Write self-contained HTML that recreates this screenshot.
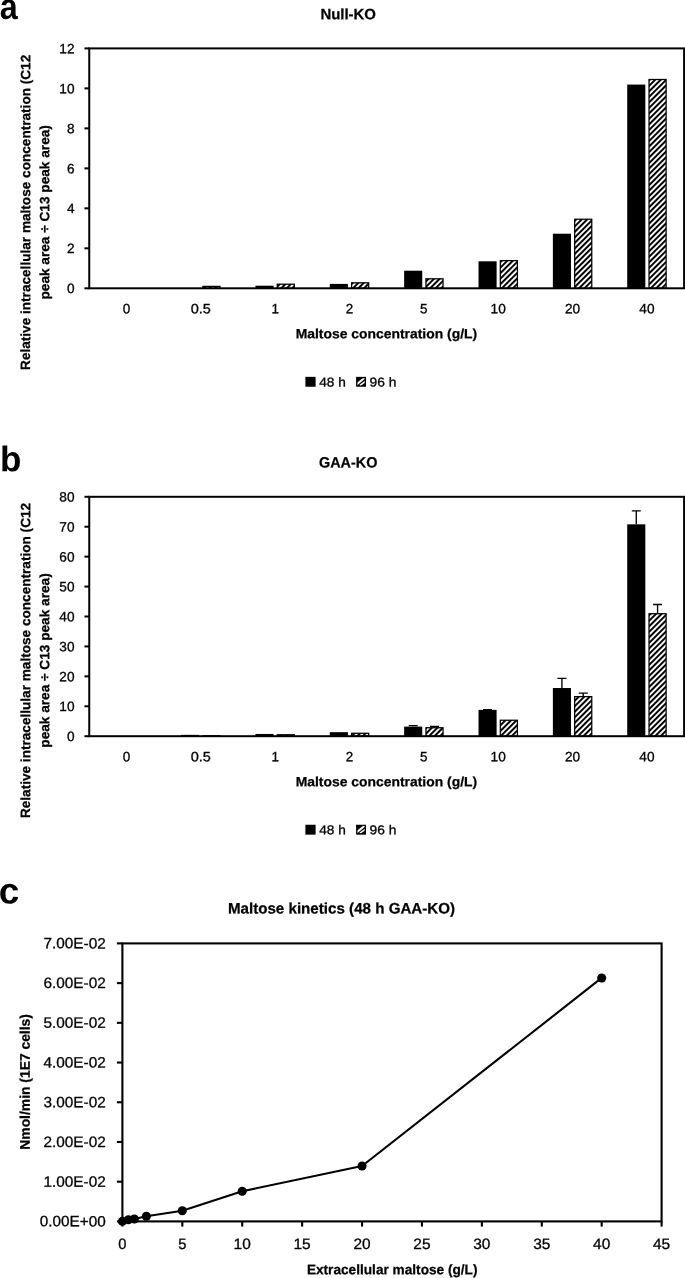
<!DOCTYPE html>
<html lang="en"><head><meta charset="utf-8"><title>Maltose figure</title>
<style>html,body{margin:0;padding:0;background:#fff}body{width:685px;height:1278px;overflow:hidden}svg{display:block;will-change:transform;filter:grayscale(1)}text{font-family:'Liberation Sans', sans-serif;fill:#000}</style>
</head><body>
<svg width="685" height="1278" viewBox="0 0 685 1278">
<defs>
<pattern id="hatch" width="3.9" height="3.9" patternUnits="userSpaceOnUse" patternTransform="rotate(-45)"><rect width="3.9" height="3.9" fill="#fff"/><rect width="3.9" height="2.0" fill="#000"/></pattern>
<clipPath id="sw"><rect x="357.5" y="378.2" width="7.2" height="7.2"/></clipPath>
</defs>
<rect width="685" height="1278" fill="#fff"/>
<text x="-0.2" y="19.0" font-size="36.5" text-anchor="start" font-weight="700" textLength="18.0" lengthAdjust="spacingAndGlyphs" transform="rotate(0.03 -0.2 19.0)">a</text>
<text x="-0.1" y="471.3" font-size="35.6" text-anchor="start" font-weight="700" textLength="21.4" lengthAdjust="spacingAndGlyphs" transform="rotate(0.03 -0.1 471.3)">b</text>
<text x="-1.3" y="903.6" font-size="36.8" text-anchor="start" font-weight="700" transform="rotate(0.03 -1.3 903.6)">c</text>
<g>
<rect x="202.88" y="286.40" width="17.1" height="1.90" fill="url(#hatch)" stroke="#000" stroke-width="1.25"/>
<rect x="255.44" y="285.70" width="18.1" height="2.60" fill="#000"/>
<rect x="277.24" y="284.20" width="17.1" height="4.10" fill="url(#hatch)" stroke="#000" stroke-width="1.25"/>
<rect x="329.80" y="283.90" width="18.1" height="4.40" fill="#000"/>
<rect x="351.60" y="282.80" width="17.1" height="5.50" fill="url(#hatch)" stroke="#000" stroke-width="1.25"/>
<rect x="404.15" y="270.71" width="18.1" height="17.59" fill="#000"/>
<rect x="425.95" y="278.80" width="17.1" height="9.50" fill="url(#hatch)" stroke="#000" stroke-width="1.25"/>
<rect x="478.51" y="261.31" width="18.1" height="26.99" fill="#000"/>
<rect x="500.31" y="260.61" width="17.1" height="27.69" fill="url(#hatch)" stroke="#000" stroke-width="1.25"/>
<rect x="552.87" y="233.72" width="18.1" height="54.58" fill="#000"/>
<rect x="574.67" y="219.23" width="17.1" height="69.07" fill="url(#hatch)" stroke="#000" stroke-width="1.25"/>
<rect x="627.22" y="84.58" width="18.1" height="203.72" fill="#000"/>
<rect x="649.02" y="79.49" width="17.1" height="208.81" fill="url(#hatch)" stroke="#000" stroke-width="1.25"/>
<rect x="89.25" y="48.4" width="594.85" height="239.9" fill="none" stroke="#000" stroke-width="2.0"/>
<line x1="84.45" y1="288.30" x2="89.25" y2="288.30" stroke="#000" stroke-width="2.0"/>
<text x="74.5" y="293.1" font-size="13.5" text-anchor="end" stroke="#000" stroke-width="0.3" textLength="7.6" lengthAdjust="spacingAndGlyphs" transform="rotate(0.03 74.5 293.1)">0</text>
<line x1="84.45" y1="248.32" x2="89.25" y2="248.32" stroke="#000" stroke-width="2.0"/>
<text x="74.5" y="253.12" font-size="13.5" text-anchor="end" stroke="#000" stroke-width="0.3" textLength="7.6" lengthAdjust="spacingAndGlyphs" transform="rotate(0.03 74.5 253.12)">2</text>
<line x1="84.45" y1="208.33" x2="89.25" y2="208.33" stroke="#000" stroke-width="2.0"/>
<text x="74.5" y="213.13" font-size="13.5" text-anchor="end" stroke="#000" stroke-width="0.3" textLength="7.6" lengthAdjust="spacingAndGlyphs" transform="rotate(0.03 74.5 213.13)">4</text>
<line x1="84.45" y1="168.35" x2="89.25" y2="168.35" stroke="#000" stroke-width="2.0"/>
<text x="74.5" y="173.15" font-size="13.5" text-anchor="end" stroke="#000" stroke-width="0.3" textLength="7.6" lengthAdjust="spacingAndGlyphs" transform="rotate(0.03 74.5 173.15)">6</text>
<line x1="84.45" y1="128.37" x2="89.25" y2="128.37" stroke="#000" stroke-width="2.0"/>
<text x="74.5" y="133.17" font-size="13.5" text-anchor="end" stroke="#000" stroke-width="0.3" textLength="7.6" lengthAdjust="spacingAndGlyphs" transform="rotate(0.03 74.5 133.17)">8</text>
<line x1="84.45" y1="88.38" x2="89.25" y2="88.38" stroke="#000" stroke-width="2.0"/>
<text x="74.5" y="93.18" font-size="13.5" text-anchor="end" stroke="#000" stroke-width="0.3" textLength="15.2" lengthAdjust="spacingAndGlyphs" transform="rotate(0.03 74.5 93.18)">10</text>
<line x1="84.45" y1="48.40" x2="89.25" y2="48.40" stroke="#000" stroke-width="2.0"/>
<text x="74.5" y="53.2" font-size="13.5" text-anchor="end" stroke="#000" stroke-width="0.3" textLength="15.2" lengthAdjust="spacingAndGlyphs" transform="rotate(0.03 74.5 53.2)">12</text>
<text x="126.43" y="313.3" font-size="13.5" text-anchor="middle" stroke="#000" stroke-width="0.3" textLength="7.5" lengthAdjust="spacingAndGlyphs" transform="rotate(0.03 126.43 313.3)">0</text>
<text x="200.78" y="313.3" font-size="13.5" text-anchor="middle" stroke="#000" stroke-width="0.3" textLength="20.2" lengthAdjust="spacingAndGlyphs" transform="rotate(0.03 200.78 313.3)">0.5</text>
<text x="275.14" y="313.3" font-size="13.5" text-anchor="middle" stroke="#000" stroke-width="0.3" textLength="7.5" lengthAdjust="spacingAndGlyphs" transform="rotate(0.03 275.14 313.3)">1</text>
<text x="349.5" y="313.3" font-size="13.5" text-anchor="middle" stroke="#000" stroke-width="0.3" textLength="7.5" lengthAdjust="spacingAndGlyphs" transform="rotate(0.03 349.5 313.3)">2</text>
<text x="423.85" y="313.3" font-size="13.5" text-anchor="middle" stroke="#000" stroke-width="0.3" textLength="7.5" lengthAdjust="spacingAndGlyphs" transform="rotate(0.03 423.85 313.3)">5</text>
<text x="498.21" y="313.3" font-size="13.5" text-anchor="middle" stroke="#000" stroke-width="0.3" textLength="15.2" lengthAdjust="spacingAndGlyphs" transform="rotate(0.03 498.21 313.3)">10</text>
<text x="572.57" y="313.3" font-size="13.5" text-anchor="middle" stroke="#000" stroke-width="0.3" textLength="15.2" lengthAdjust="spacingAndGlyphs" transform="rotate(0.03 572.57 313.3)">20</text>
<text x="646.92" y="313.3" font-size="13.5" text-anchor="middle" stroke="#000" stroke-width="0.3" textLength="15.2" lengthAdjust="spacingAndGlyphs" transform="rotate(0.03 646.92 313.3)">40</text>
<text x="348.2" y="19.3" font-size="15.0" text-anchor="middle" font-weight="700" stroke="#000" stroke-width="0.25" textLength="55.6" lengthAdjust="spacingAndGlyphs" transform="rotate(0.03 348.2 19.3)">Null-KO</text>
<text x="386.4" y="338.3" font-size="13.4" text-anchor="middle" font-weight="700" stroke="#000" stroke-width="0.25" textLength="181.5" lengthAdjust="spacingAndGlyphs" transform="rotate(0.03 386.4 338.3)">Maltose concentration (g/L)</text>
<text x="30.2" y="212.35" font-size="13.5" text-anchor="middle" font-weight="700" stroke="#000" stroke-width="0.25" textLength="315.2" lengthAdjust="spacingAndGlyphs" transform="rotate(-89.97 30.2 212.35)">Relative intracellular maltose concentration (C12</text>
<text x="49.2" y="212.35" font-size="13.5" text-anchor="middle" font-weight="700" stroke="#000" stroke-width="0.25" textLength="174.4" lengthAdjust="spacingAndGlyphs" transform="rotate(-89.97 49.2 212.35)">peak area ÷ C13 peak area)</text>
<rect x="305.4" y="376.85" width="10.2" height="9.9" fill="#000"/>
<text x="319.2" y="386.4" font-size="12.8" text-anchor="start" stroke="#000" stroke-width="0.3" textLength="26.6" lengthAdjust="spacingAndGlyphs" transform="rotate(0.03 319.2 386.4)">48 h</text>
<rect x="356.1" y="376.85" width="9.9" height="9.9" fill="#000"/>
<g transform="translate(0 0.00)" clip-path="url(#sw)" stroke="#fff" fill="none"><path d="M356.6 384.5L364.6 377.9" stroke-width="2.0"/><path d="M360.0 385.3L365.4 381.4" stroke-width="1.6"/></g>
<text x="369.6" y="386.4" font-size="12.8" text-anchor="start" stroke="#000" stroke-width="0.3" textLength="26.9" lengthAdjust="spacingAndGlyphs" transform="rotate(0.03 369.6 386.4)">96 h</text>
</g>
<g>
<rect x="181.08" y="734.85" width="18.1" height="1.35" fill="#000"/>
<rect x="202.88" y="735.80" width="17.1" height="0.40" fill="url(#hatch)" stroke="#000" stroke-width="1.25"/>
<rect x="255.44" y="733.96" width="18.1" height="2.24" fill="#000"/>
<rect x="277.24" y="734.75" width="17.1" height="1.45" fill="url(#hatch)" stroke="#000" stroke-width="1.25"/>
<rect x="329.80" y="732.16" width="18.1" height="4.04" fill="#000"/>
<rect x="351.60" y="733.26" width="17.1" height="2.94" fill="url(#hatch)" stroke="#000" stroke-width="1.25"/>
<rect x="404.15" y="726.62" width="18.1" height="9.58" fill="#000"/>
<rect x="425.95" y="727.72" width="17.1" height="8.48" fill="url(#hatch)" stroke="#000" stroke-width="1.25"/>
<path d="M413.20 726.62V725.58M408.70 725.58H417.70" stroke="#000" stroke-width="1.35" fill="none"/>
<path d="M434.50 727.22V726.32M430.00 726.32H439.00" stroke="#000" stroke-width="1.35" fill="none"/>
<rect x="478.51" y="709.87" width="18.1" height="26.33" fill="#000"/>
<rect x="500.31" y="720.24" width="17.1" height="15.96" fill="url(#hatch)" stroke="#000" stroke-width="1.25"/>
<path d="M487.56 709.87V709.57M483.06 709.57H492.06" stroke="#000" stroke-width="1.35" fill="none"/>
<rect x="552.87" y="688.02" width="18.1" height="48.18" fill="#000"/>
<rect x="574.67" y="696.60" width="17.1" height="39.60" fill="url(#hatch)" stroke="#000" stroke-width="1.25"/>
<path d="M561.92 688.02V678.44M557.42 678.44H566.42" stroke="#000" stroke-width="1.35" fill="none"/>
<path d="M583.22 696.10V693.11M578.72 693.11H587.72" stroke="#000" stroke-width="1.35" fill="none"/>
<rect x="627.22" y="524.33" width="18.1" height="211.87" fill="#000"/>
<rect x="649.02" y="613.71" width="17.1" height="122.49" fill="url(#hatch)" stroke="#000" stroke-width="1.25"/>
<path d="M636.27 524.33V510.86M631.77 510.86H640.77" stroke="#000" stroke-width="1.35" fill="none"/>
<path d="M657.57 613.21V604.53M653.07 604.53H662.07" stroke="#000" stroke-width="1.35" fill="none"/>
<rect x="89.25" y="496.8" width="594.85" height="239.40000000000003" fill="none" stroke="#000" stroke-width="2.0"/>
<line x1="84.45" y1="736.20" x2="89.25" y2="736.20" stroke="#000" stroke-width="2.0"/>
<text x="74.5" y="741.0" font-size="13.5" text-anchor="end" stroke="#000" stroke-width="0.3" textLength="7.6" lengthAdjust="spacingAndGlyphs" transform="rotate(0.03 74.5 741.0)">0</text>
<line x1="84.45" y1="706.28" x2="89.25" y2="706.28" stroke="#000" stroke-width="2.0"/>
<text x="74.5" y="711.08" font-size="13.5" text-anchor="end" stroke="#000" stroke-width="0.3" textLength="15.2" lengthAdjust="spacingAndGlyphs" transform="rotate(0.03 74.5 711.08)">10</text>
<line x1="84.45" y1="676.35" x2="89.25" y2="676.35" stroke="#000" stroke-width="2.0"/>
<text x="74.5" y="681.15" font-size="13.5" text-anchor="end" stroke="#000" stroke-width="0.3" textLength="15.2" lengthAdjust="spacingAndGlyphs" transform="rotate(0.03 74.5 681.15)">20</text>
<line x1="84.45" y1="646.43" x2="89.25" y2="646.43" stroke="#000" stroke-width="2.0"/>
<text x="74.5" y="651.23" font-size="13.5" text-anchor="end" stroke="#000" stroke-width="0.3" textLength="15.2" lengthAdjust="spacingAndGlyphs" transform="rotate(0.03 74.5 651.23)">30</text>
<line x1="84.45" y1="616.50" x2="89.25" y2="616.50" stroke="#000" stroke-width="2.0"/>
<text x="74.5" y="621.3" font-size="13.5" text-anchor="end" stroke="#000" stroke-width="0.3" textLength="15.2" lengthAdjust="spacingAndGlyphs" transform="rotate(0.03 74.5 621.3)">40</text>
<line x1="84.45" y1="586.58" x2="89.25" y2="586.58" stroke="#000" stroke-width="2.0"/>
<text x="74.5" y="591.38" font-size="13.5" text-anchor="end" stroke="#000" stroke-width="0.3" textLength="15.2" lengthAdjust="spacingAndGlyphs" transform="rotate(0.03 74.5 591.38)">50</text>
<line x1="84.45" y1="556.65" x2="89.25" y2="556.65" stroke="#000" stroke-width="2.0"/>
<text x="74.5" y="561.45" font-size="13.5" text-anchor="end" stroke="#000" stroke-width="0.3" textLength="15.2" lengthAdjust="spacingAndGlyphs" transform="rotate(0.03 74.5 561.45)">60</text>
<line x1="84.45" y1="526.73" x2="89.25" y2="526.73" stroke="#000" stroke-width="2.0"/>
<text x="74.5" y="531.52" font-size="13.5" text-anchor="end" stroke="#000" stroke-width="0.3" textLength="15.2" lengthAdjust="spacingAndGlyphs" transform="rotate(0.03 74.5 531.52)">70</text>
<line x1="84.45" y1="496.80" x2="89.25" y2="496.80" stroke="#000" stroke-width="2.0"/>
<text x="74.5" y="501.6" font-size="13.5" text-anchor="end" stroke="#000" stroke-width="0.3" textLength="15.2" lengthAdjust="spacingAndGlyphs" transform="rotate(0.03 74.5 501.6)">80</text>
<text x="126.43" y="761.2" font-size="13.5" text-anchor="middle" stroke="#000" stroke-width="0.3" textLength="7.5" lengthAdjust="spacingAndGlyphs" transform="rotate(0.03 126.43 761.2)">0</text>
<text x="200.78" y="761.2" font-size="13.5" text-anchor="middle" stroke="#000" stroke-width="0.3" textLength="20.2" lengthAdjust="spacingAndGlyphs" transform="rotate(0.03 200.78 761.2)">0.5</text>
<text x="275.14" y="761.2" font-size="13.5" text-anchor="middle" stroke="#000" stroke-width="0.3" textLength="7.5" lengthAdjust="spacingAndGlyphs" transform="rotate(0.03 275.14 761.2)">1</text>
<text x="349.5" y="761.2" font-size="13.5" text-anchor="middle" stroke="#000" stroke-width="0.3" textLength="7.5" lengthAdjust="spacingAndGlyphs" transform="rotate(0.03 349.5 761.2)">2</text>
<text x="423.85" y="761.2" font-size="13.5" text-anchor="middle" stroke="#000" stroke-width="0.3" textLength="7.5" lengthAdjust="spacingAndGlyphs" transform="rotate(0.03 423.85 761.2)">5</text>
<text x="498.21" y="761.2" font-size="13.5" text-anchor="middle" stroke="#000" stroke-width="0.3" textLength="15.2" lengthAdjust="spacingAndGlyphs" transform="rotate(0.03 498.21 761.2)">10</text>
<text x="572.57" y="761.2" font-size="13.5" text-anchor="middle" stroke="#000" stroke-width="0.3" textLength="15.2" lengthAdjust="spacingAndGlyphs" transform="rotate(0.03 572.57 761.2)">20</text>
<text x="646.92" y="761.2" font-size="13.5" text-anchor="middle" stroke="#000" stroke-width="0.3" textLength="15.2" lengthAdjust="spacingAndGlyphs" transform="rotate(0.03 646.92 761.2)">40</text>
<text x="348.2" y="467.4" font-size="15.0" text-anchor="middle" font-weight="700" stroke="#000" stroke-width="0.25" textLength="58.4" lengthAdjust="spacingAndGlyphs" transform="rotate(0.03 348.2 467.4)">GAA-KO</text>
<text x="386.4" y="786.2" font-size="13.4" text-anchor="middle" font-weight="700" stroke="#000" stroke-width="0.25" textLength="181.5" lengthAdjust="spacingAndGlyphs" transform="rotate(0.03 386.4 786.2)">Maltose concentration (g/L)</text>
<text x="30.2" y="660.5" font-size="13.5" text-anchor="middle" font-weight="700" stroke="#000" stroke-width="0.25" textLength="315.2" lengthAdjust="spacingAndGlyphs" transform="rotate(-89.97 30.2 660.5)">Relative intracellular maltose concentration (C12</text>
<text x="49.2" y="660.5" font-size="13.5" text-anchor="middle" font-weight="700" stroke="#000" stroke-width="0.25" textLength="174.4" lengthAdjust="spacingAndGlyphs" transform="rotate(-89.97 49.2 660.5)">peak area ÷ C13 peak area)</text>
<rect x="305.4" y="824.75" width="10.2" height="9.9" fill="#000"/>
<text x="319.2" y="834.3" font-size="12.8" text-anchor="start" stroke="#000" stroke-width="0.3" textLength="26.6" lengthAdjust="spacingAndGlyphs" transform="rotate(0.03 319.2 834.3)">48 h</text>
<rect x="356.1" y="824.75" width="9.9" height="9.9" fill="#000"/>
<g transform="translate(0 447.90)" clip-path="url(#sw)" stroke="#fff" fill="none"><path d="M356.6 384.5L364.6 377.9" stroke-width="2.0"/><path d="M360.0 385.3L365.4 381.4" stroke-width="1.6"/></g>
<text x="369.6" y="834.3" font-size="12.8" text-anchor="start" stroke="#000" stroke-width="0.3" textLength="26.9" lengthAdjust="spacingAndGlyphs" transform="rotate(0.03 369.6 834.3)">96 h</text>
</g>
<g>
<rect x="122.4" y="943.4" width="539.2" height="278.0000000000001" fill="none" stroke="#000" stroke-width="2.1"/>
<line x1="116.9" y1="1221.40" x2="122.4" y2="1221.40" stroke="#000" stroke-width="2.1"/>
<text x="105.8" y="1226.4" font-size="15.0" text-anchor="end" stroke="#000" stroke-width="0.3" textLength="66.0" lengthAdjust="spacingAndGlyphs" transform="rotate(0.03 105.8 1226.4)">0.00E+00</text>
<line x1="116.9" y1="1181.69" x2="122.4" y2="1181.69" stroke="#000" stroke-width="2.1"/>
<text x="105.8" y="1186.69" font-size="15.0" text-anchor="end" stroke="#000" stroke-width="0.3" textLength="62.4" lengthAdjust="spacingAndGlyphs" transform="rotate(0.03 105.8 1186.69)">1.00E-02</text>
<line x1="116.9" y1="1141.97" x2="122.4" y2="1141.97" stroke="#000" stroke-width="2.1"/>
<text x="105.8" y="1146.97" font-size="15.0" text-anchor="end" stroke="#000" stroke-width="0.3" textLength="62.4" lengthAdjust="spacingAndGlyphs" transform="rotate(0.03 105.8 1146.97)">2.00E-02</text>
<line x1="116.9" y1="1102.26" x2="122.4" y2="1102.26" stroke="#000" stroke-width="2.1"/>
<text x="105.8" y="1107.26" font-size="15.0" text-anchor="end" stroke="#000" stroke-width="0.3" textLength="62.4" lengthAdjust="spacingAndGlyphs" transform="rotate(0.03 105.8 1107.26)">3.00E-02</text>
<line x1="116.9" y1="1062.54" x2="122.4" y2="1062.54" stroke="#000" stroke-width="2.1"/>
<text x="105.8" y="1067.54" font-size="15.0" text-anchor="end" stroke="#000" stroke-width="0.3" textLength="62.4" lengthAdjust="spacingAndGlyphs" transform="rotate(0.03 105.8 1067.54)">4.00E-02</text>
<line x1="116.9" y1="1022.83" x2="122.4" y2="1022.83" stroke="#000" stroke-width="2.1"/>
<text x="105.8" y="1027.83" font-size="15.0" text-anchor="end" stroke="#000" stroke-width="0.3" textLength="62.4" lengthAdjust="spacingAndGlyphs" transform="rotate(0.03 105.8 1027.83)">5.00E-02</text>
<line x1="116.9" y1="983.11" x2="122.4" y2="983.11" stroke="#000" stroke-width="2.1"/>
<text x="105.8" y="988.11" font-size="15.0" text-anchor="end" stroke="#000" stroke-width="0.3" textLength="62.4" lengthAdjust="spacingAndGlyphs" transform="rotate(0.03 105.8 988.11)">6.00E-02</text>
<line x1="116.9" y1="943.40" x2="122.4" y2="943.40" stroke="#000" stroke-width="2.1"/>
<text x="105.8" y="948.4" font-size="15.0" text-anchor="end" stroke="#000" stroke-width="0.3" textLength="62.4" lengthAdjust="spacingAndGlyphs" transform="rotate(0.03 105.8 948.4)">7.00E-02</text>
<line x1="122.40" y1="1221.4" x2="122.40" y2="1226.6000000000001" stroke="#000" stroke-width="2.1"/>
<text x="122.4" y="1249.0" font-size="15.0" text-anchor="middle" stroke="#000" stroke-width="0.3" textLength="8.2" lengthAdjust="spacingAndGlyphs" transform="rotate(0.03 122.4 1249.0)">0</text>
<line x1="182.31" y1="1221.4" x2="182.31" y2="1226.6000000000001" stroke="#000" stroke-width="2.1"/>
<text x="182.31" y="1249.0" font-size="15.0" text-anchor="middle" stroke="#000" stroke-width="0.3" textLength="8.2" lengthAdjust="spacingAndGlyphs" transform="rotate(0.03 182.31 1249.0)">5</text>
<line x1="242.22" y1="1221.4" x2="242.22" y2="1226.6000000000001" stroke="#000" stroke-width="2.1"/>
<text x="242.22" y="1249.0" font-size="15.0" text-anchor="middle" stroke="#000" stroke-width="0.3" textLength="17.2" lengthAdjust="spacingAndGlyphs" transform="rotate(0.03 242.22 1249.0)">10</text>
<line x1="302.13" y1="1221.4" x2="302.13" y2="1226.6000000000001" stroke="#000" stroke-width="2.1"/>
<text x="302.13" y="1249.0" font-size="15.0" text-anchor="middle" stroke="#000" stroke-width="0.3" textLength="17.2" lengthAdjust="spacingAndGlyphs" transform="rotate(0.03 302.13 1249.0)">15</text>
<line x1="362.04" y1="1221.4" x2="362.04" y2="1226.6000000000001" stroke="#000" stroke-width="2.1"/>
<text x="362.04" y="1249.0" font-size="15.0" text-anchor="middle" stroke="#000" stroke-width="0.3" textLength="17.2" lengthAdjust="spacingAndGlyphs" transform="rotate(0.03 362.04 1249.0)">20</text>
<line x1="421.96" y1="1221.4" x2="421.96" y2="1226.6000000000001" stroke="#000" stroke-width="2.1"/>
<text x="421.96" y="1249.0" font-size="15.0" text-anchor="middle" stroke="#000" stroke-width="0.3" textLength="17.2" lengthAdjust="spacingAndGlyphs" transform="rotate(0.03 421.96 1249.0)">25</text>
<line x1="481.87" y1="1221.4" x2="481.87" y2="1226.6000000000001" stroke="#000" stroke-width="2.1"/>
<text x="481.87" y="1249.0" font-size="15.0" text-anchor="middle" stroke="#000" stroke-width="0.3" textLength="17.2" lengthAdjust="spacingAndGlyphs" transform="rotate(0.03 481.87 1249.0)">30</text>
<line x1="541.78" y1="1221.4" x2="541.78" y2="1226.6000000000001" stroke="#000" stroke-width="2.1"/>
<text x="541.78" y="1249.0" font-size="15.0" text-anchor="middle" stroke="#000" stroke-width="0.3" textLength="17.2" lengthAdjust="spacingAndGlyphs" transform="rotate(0.03 541.78 1249.0)">35</text>
<line x1="601.69" y1="1221.4" x2="601.69" y2="1226.6000000000001" stroke="#000" stroke-width="2.1"/>
<text x="601.69" y="1249.0" font-size="15.0" text-anchor="middle" stroke="#000" stroke-width="0.3" textLength="17.2" lengthAdjust="spacingAndGlyphs" transform="rotate(0.03 601.69 1249.0)">40</text>
<line x1="661.60" y1="1221.4" x2="661.60" y2="1226.6000000000001" stroke="#000" stroke-width="2.1"/>
<text x="661.6" y="1249.0" font-size="15.0" text-anchor="middle" stroke="#000" stroke-width="0.3" textLength="17.2" lengthAdjust="spacingAndGlyphs" transform="rotate(0.03 661.6 1249.0)">45</text>
<polyline fill="none" stroke="#000" stroke-width="2.1" stroke-linejoin="round" points="122.40,1221.40 128.39,1219.81 134.38,1219.02 146.36,1216.32 182.31,1210.68 242.22,1191.22 362.04,1166.00 601.69,977.95"/>
<circle cx="122.40" cy="1221.40" r="4.55" fill="#000"/>
<circle cx="128.39" cy="1219.81" r="4.55" fill="#000"/>
<circle cx="134.38" cy="1219.02" r="4.55" fill="#000"/>
<circle cx="146.36" cy="1216.32" r="4.55" fill="#000"/>
<circle cx="182.31" cy="1210.68" r="4.55" fill="#000"/>
<circle cx="242.22" cy="1191.22" r="4.55" fill="#000"/>
<circle cx="362.04" cy="1166.00" r="4.55" fill="#000"/>
<circle cx="601.69" cy="977.95" r="4.55" fill="#000"/>
<text x="341.5" y="913.5" font-size="15.2" text-anchor="middle" font-weight="700" stroke="#000" stroke-width="0.25" textLength="227.2" lengthAdjust="spacingAndGlyphs" transform="rotate(0.03 341.5 913.5)">Maltose kinetics (48 h GAA-KO)</text>
<text x="392.2" y="1274.3" font-size="13.9" text-anchor="middle" font-weight="700" stroke="#000" stroke-width="0.25" textLength="170.6" lengthAdjust="spacingAndGlyphs" transform="rotate(0.03 392.2 1274.3)">Extracellular maltose (g/L)</text>
<text x="29.7" y="1081.9" font-size="14.0" text-anchor="middle" font-weight="700" stroke="#000" stroke-width="0.25" textLength="135.6" lengthAdjust="spacingAndGlyphs" transform="rotate(-89.97 29.7 1081.9)">Nmol/min (1E7 cells)</text>
</g>
</svg></body></html>
